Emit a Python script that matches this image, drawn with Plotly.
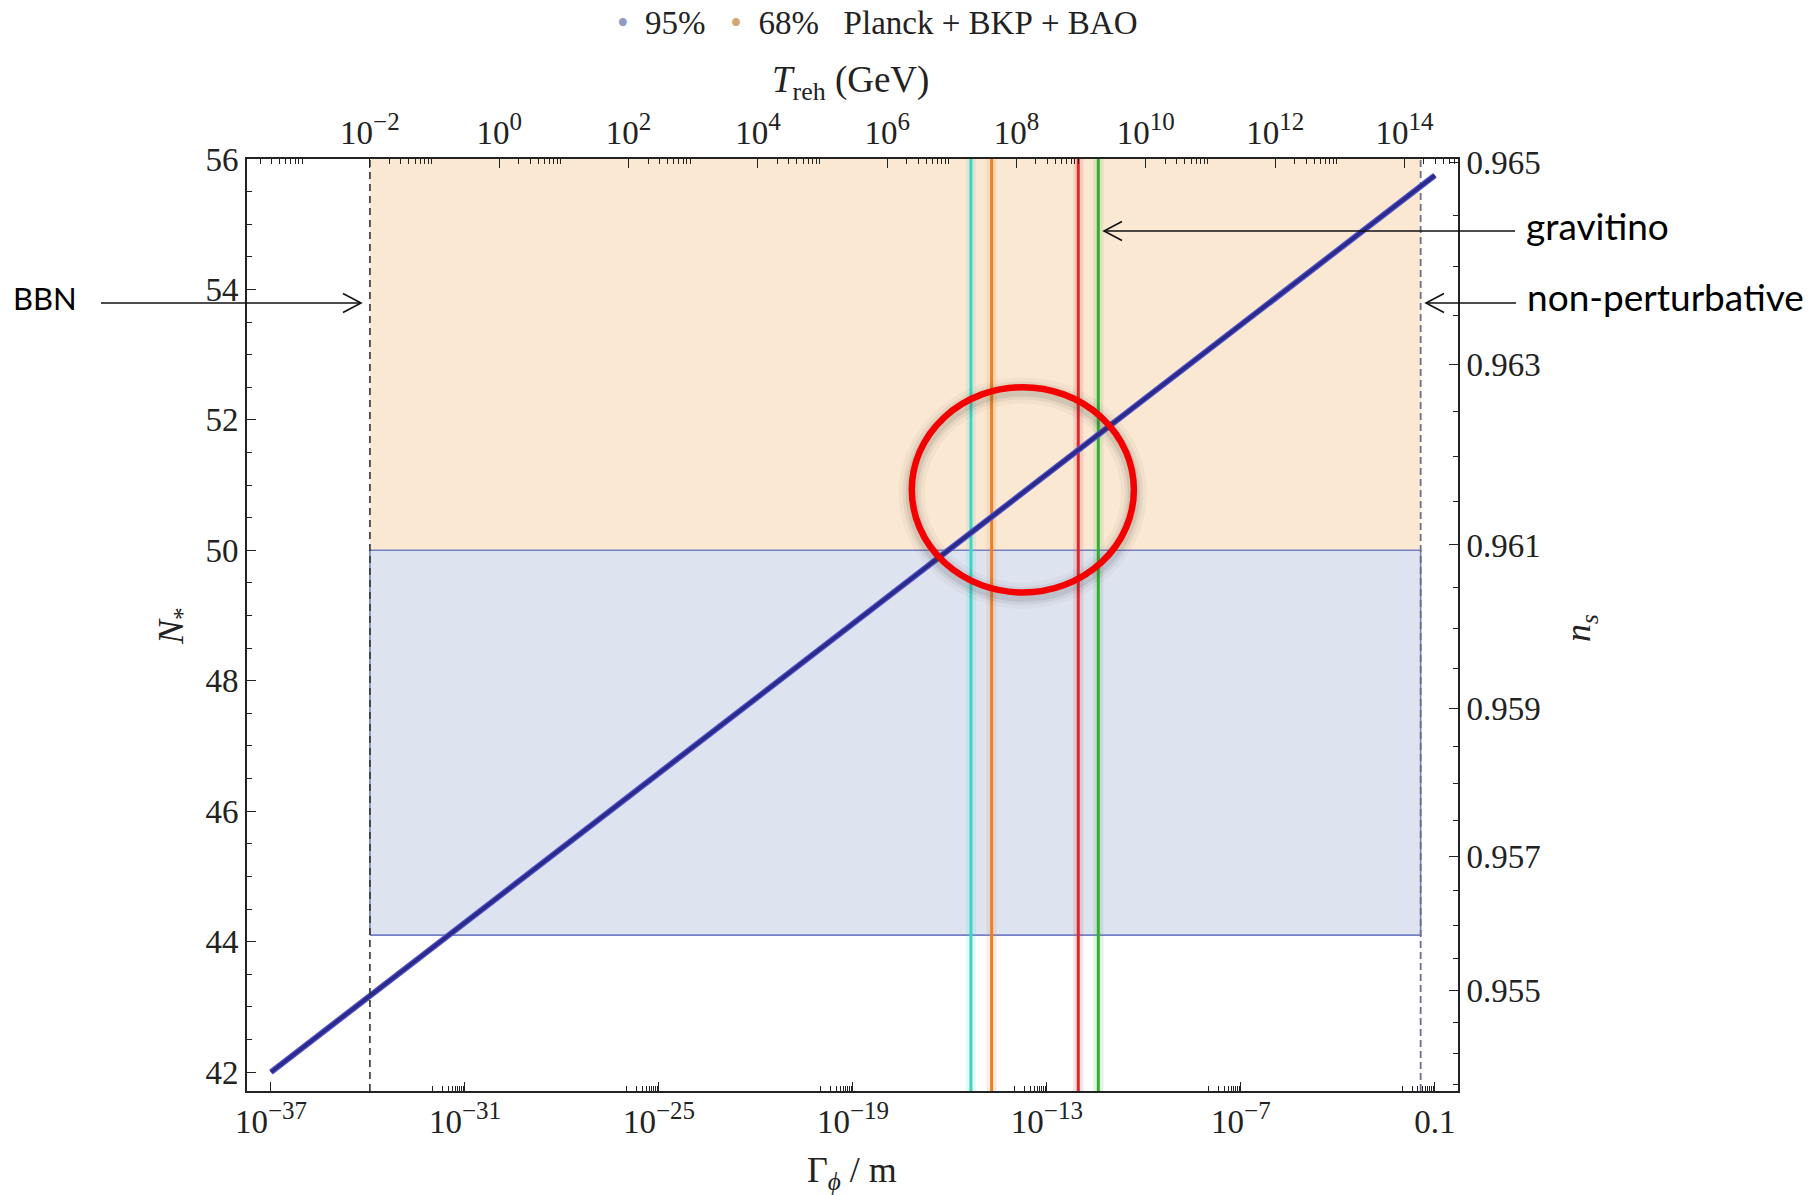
import numpy as np
import plotly.graph_objects as go

# ---------------- data ----------------
gamma_line = [1e-37, 1e-1]          # Gamma_phi / m
nstar_line = [42.0, 55.75]          # N_*

bbn_T = 1e-2                        # GeV, BBN bound on T_reh
bbn_gamma = 10 ** -33.94            # the same bound in Gamma_phi / m
nonpert_gamma = 10 ** -1.44         # non-perturbative bound
band95_n = [44.1, 50.0]
band68_n = [50.0, 56.0]

vline_gamma = [10 ** -15.35, 10 ** -14.71, 10 ** -12.03, 10 ** -11.41]
vline_colors = ["#3ED4C4", "#F07F1E", "#E3262B", "#33AE33"]

x_tick_exp = [-37, -31, -25, -19, -13, -7, -1]
x_tick_sup = ["−37", "−31", "−25", "−19", "−13", "−7", None]
top_tick_exp = [-2, 0, 2, 4, 6, 8, 10, 12, 14]
top_tick_sup = ["−2", "0", "2", "4", "6", "8", "10", "12", "14"]
n_ticks = [42, 44, 46, 48, 50, 52, 54, 56]
ns_ticks = [0.955, 0.957, 0.959, 0.961, 0.963, 0.965]
ns_ticktext = ["0.955", "0.957", "0.959", "0.961", "0.963", "0.965"]

# ---------------- geometry ----------------
W, H = 1813, 1195
L, R, T, B = 247, 1458, 159, 1091
x_range = [-37.742, -0.285]
y_range = [41.71, 56.0]
top_range = [np.log10(bbn_T) + (v - np.log10(bbn_gamma)) / 2 for v in x_range]


def ns_to_N(ns):
    return 2.0 / (1.0 - ns) - 1.2


def px(x):
    return (x - L) / (R - L)


def py(y):
    return (B - y) / (B - T)


def pow_label(s):
    if s is None:
        return "0.1"
    return f"10<sup><span style='font-size:25px'>{s}</span></sup>"


serif = "Liberation Serif"
sans = "Lato"
txt = "#222222"

fig = go.Figure()

# bands
bx = [bbn_gamma, nonpert_gamma, nonpert_gamma, bbn_gamma, bbn_gamma]
fig.add_trace(go.Scatter(x=bx, y=[band68_n[0], band68_n[0], band68_n[1], band68_n[1], band68_n[0]],
                         fill="toself", fillcolor="#FAE8D2", line=dict(width=0), mode="lines",
                         hoverinfo="skip", showlegend=False))
fig.add_trace(go.Scatter(x=bx, y=[band95_n[0], band95_n[0], band95_n[1], band95_n[1], band95_n[0]],
                         fill="toself", fillcolor="#DEE3F0", line=dict(width=1.6, color="#7580C4"),
                         mode="lines", hoverinfo="skip", showlegend=False))

# vertical coloured lines (halo + line)
for g, c in zip(vline_gamma, vline_colors):
    fig.add_trace(go.Scatter(x=[g, g], y=y_range, mode="lines", line=dict(color=c, width=10),
                             opacity=0.13, hoverinfo="skip", showlegend=False))
    fig.add_trace(go.Scatter(x=[g, g], y=y_range, mode="lines", line=dict(color=c, width=3),
                             hoverinfo="skip", showlegend=False))

# non-perturbative dashed bound
fig.add_trace(go.Scatter(x=[nonpert_gamma, nonpert_gamma], y=y_range, mode="lines",
                         line=dict(color="#6a6f8a", width=1.8, dash="7px,4px"),
                         hoverinfo="skip", showlegend=False))

# BBN dashed bound, drawn on the T_reh axis (top)
fig.add_trace(go.Scatter(x=[bbn_T, bbn_T], y=y_range, mode="lines", xaxis="x2", yaxis="y",
                         line=dict(color="#333333", width=1.6, dash="7px,5px"),
                         hoverinfo="skip", showlegend=False))

# main line, drawn against the n_s axis overlay (same N range)
fig.add_trace(go.Scatter(x=gamma_line, y=nstar_line, mode="lines", xaxis="x", yaxis="y2",
                         line=dict(color="#5252c8", width=6), hoverinfo="skip", showlegend=False))
fig.add_trace(go.Scatter(x=gamma_line, y=nstar_line, mode="lines", xaxis="x", yaxis="y2",
                         line=dict(color="#2a2a8c", width=3.5), hoverinfo="skip", showlegend=False))

shapes = []
# red circle with soft shadow
cx0, cx1 = 10 ** -17.18, 10 ** -10.31
cy0, cy1 = 49.353, 52.501
for w, a in [(26, 0.04), (18, 0.07), (12, 0.10)]:
    shapes.append(dict(type="circle", xref="x", yref="y", x0=cx0, x1=cx1, y0=cy0 - 0.05, y1=cy1 - 0.05,
                       line=dict(color=f"rgba(60,60,60,{a})", width=w)))
shapes.append(dict(type="circle", xref="x", yref="y", x0=cx0, x1=cx1, y0=cy0, y1=cy1,
                   line=dict(color="#F40000", width=6.5)))


# arrows (tail -> tip) drawn in paper coordinates
def arrow(x_tail, x_tip, y):
    d = 1 if x_tip > x_tail else -1
    shapes.append(dict(type="line", xref="paper", yref="paper", x0=px(x_tail), x1=px(x_tip),
                       y0=py(y), y1=py(y), line=dict(color="#111111", width=1.6)))
    path = (f"M {px(x_tip - d * 18)} {py(y - 9.5)} L {px(x_tip)} {py(y)} "
            f"L {px(x_tip - d * 18)} {py(y + 9.5)}")
    shapes.append(dict(type="path", xref="paper", yref="paper", path=path,
                       line=dict(color="#111111", width=1.6)))


arrow(101, 361, 303)
arrow(1515, 1104, 231)
arrow(1516, 1426, 303)

nb = "\u00a0"
annotations = [
    dict(text="BBN", x=px(11), y=py(298), xref="paper", yref="paper", xanchor="left", yanchor="middle",
         showarrow=False, font=dict(family=sans, size=31, color="#000")),
    dict(text="gravitino", x=px(1524), y=py(225), xref="paper", yref="paper", xanchor="left",
         yanchor="middle", showarrow=False, font=dict(family=sans, size=37, color="#000")),
    dict(text="non-perturbative", x=px(1525), y=py(296), xref="paper", yref="paper", xanchor="left",
         yanchor="middle", showarrow=False, font=dict(family=sans, size=37, color="#000")),
    # axis titles
    dict(text=f"<i>T</i><sub>reh</sub>{nb}(GeV)", x=px(850), y=py(82), xref="paper", yref="paper",
         xanchor="center", yanchor="middle", showarrow=False, font=dict(family=serif, size=37, color=txt)),
    dict(text=f"Γ<sub><i>ϕ</i></sub>{nb}/{nb}m", x=px(852), y=py(1172), xref="paper", yref="paper",
         xanchor="center", yanchor="middle", showarrow=False, font=dict(family=serif, size=36, color=txt)),
    dict(text="<i>N</i><sub>*</sub>", x=px(173), y=py(626), xref="paper", yref="paper", textangle=-90,
         xanchor="center", yanchor="middle", showarrow=False, font=dict(family=serif, size=36, color=txt)),
    dict(text="<i>n</i><sub><i>s</i></sub>", x=px(1580), y=py(628), xref="paper", yref="paper",
         textangle=-90, xanchor="center", yanchor="middle", showarrow=False,
         font=dict(family=serif, size=36, color=txt)),
    # legend
    dict(text=(f"<span style='color:#8E9CC6'>•</span>{nb*2}95%{nb*3}"
               f"<span style='color:#D2A873'>•</span>{nb*2}68%{nb*3}Planck{nb}+{nb}BKP{nb}+{nb}BAO"),
         x=px(877), y=py(23), xref="paper", yref="paper", xanchor="center", yanchor="middle",
         showarrow=False, font=dict(family=serif, size=33, color=txt)),
]

axis_common = dict(showgrid=False, zeroline=False, showline=True, linecolor="#222222", linewidth=1.8,
                   ticks="inside", ticklen=9, tickwidth=1.4, tickcolor="#222222",
                   tickfont=dict(family=serif, size=33, color=txt))
minor_common = dict(tickmode="array", ticks="inside", ticklen=5, tickcolor="#222222", tickwidth=1.1)

x_minor = [k * 10.0 ** (e - 1) for e in x_tick_exp[1:] for k in range(1, 10)]
top_minor = [k * 10.0 ** e for e in range(-4, 16, 2) for k in range(2, 10)]
ns_minor_vals = [round(0.9535 + 0.0005 * i, 4) for i in range(23)]
ns_minor = [ns_to_N(v) for v in ns_minor_vals if v not in ns_ticks]
n_minor = [v / 2 for v in range(83, 112) if v % 4 != 0]

fig.update_layout(
    width=W, height=H, paper_bgcolor="white", plot_bgcolor="white",
    margin=dict(l=L, r=W - R, t=T, b=H - B, autoexpand=False),
    shapes=shapes, annotations=annotations, showlegend=False,
    xaxis=dict(type="log", range=x_range, tickmode="array", tickvals=[10.0 ** e for e in x_tick_exp],
               ticktext=[pow_label(s) for s in x_tick_sup],
               minor=dict(tickvals=x_minor, **minor_common), **axis_common),
    xaxis2=dict(type="log", overlaying="x", side="top", anchor="y", range=top_range, tickmode="array",
                tickvals=[10.0 ** e for e in top_tick_exp], ticktext=[pow_label(s) for s in top_tick_sup],
                minor=dict(tickvals=top_minor, **minor_common), **axis_common),
    yaxis=dict(range=y_range, tickmode="array", tickvals=n_ticks, ticktext=[str(v) for v in n_ticks],
               minor=dict(tickvals=n_minor, **minor_common), **axis_common),
    yaxis2=dict(range=y_range, overlaying="y", side="right", anchor="x", tickmode="array",
                tickvals=[ns_to_N(v) for v in ns_ticks], ticktext=ns_ticktext,
                minor=dict(tickvals=ns_minor, **minor_common), **axis_common),
)

fig.write_html("out.html", config={"displayModeBar": False})
